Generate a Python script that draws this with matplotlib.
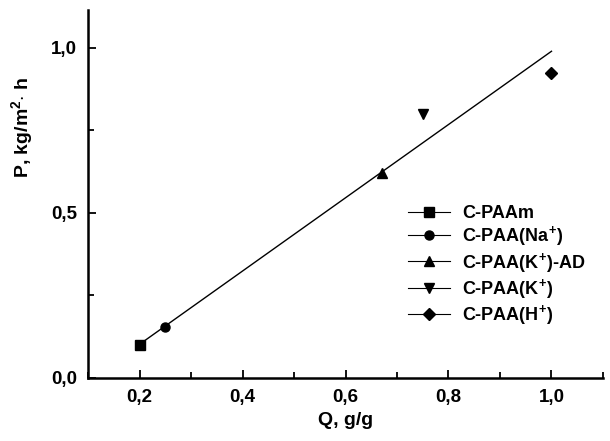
import matplotlib
matplotlib.use("Agg")
import matplotlib.pyplot as plt
from matplotlib.lines import Line2D
from matplotlib.ticker import MultipleLocator
import numpy as np

plt.rcParams["font.family"] = ["Liberation Sans", "DejaVu Sans"]
plt.rcParams["font.weight"] = "bold"
plt.rcParams["mathtext.fontset"] = "custom"
plt.rcParams["mathtext.rm"] = "Liberation Sans:bold"
plt.rcParams["mathtext.bf"] = "Liberation Sans:bold"
plt.rcParams["mathtext.default"] = "bf"

# data
labels = ["C-PAAm", "C-PAA(Na$^{+}$)", "C-PAA(K$^{+}$)-AD", "C-PAA(K$^{+}$)", "C-PAA(H$^{+}$)"]
markers = ["s", "o", "^", "v", "D"]
q_vals = [0.20, 0.25, 0.67, 0.75, 1.00]
p_vals = [0.10, 0.155, 0.62, 0.80, 0.925]

# fitted line as drawn
fit_x = [0.20, 1.00]
fit_slope = 1.11
fit_icept = -0.12

x_ticks = [0.2, 0.4, 0.6, 0.8, 1.0]
x_ticklabels = ["0,2", "0,4", "0,6", "0,8", "1,0"]
y_ticks = [0.0, 0.5, 1.0]
y_ticklabels = ["0,0", "0,5", "1,0"]

fig = plt.figure(figsize=(6.10, 4.41), dpi=100)
ax = fig.add_axes([0.1443, 0.1429, 0.8442, 0.8344])

fx = np.array(fit_x)
ax.plot(fx, fit_slope * fx + fit_icept, color="black", lw=1.0)


def msize(m):
    return 6 if m == "D" else 6.5


for q, p, m in zip(q_vals, p_vals, markers):
    ax.plot([q], [p], marker=m, color="black", ms=msize(m), ls="none")

ax.set_xlim(0.1, 1.1)
ax.set_ylim(0.0, 1.115)
ax.set_xticks(x_ticks)
ax.set_xticklabels(x_ticklabels)
ax.set_yticks(y_ticks)
ax.set_yticklabels(y_ticklabels)
ax.xaxis.set_minor_locator(MultipleLocator(0.1))
ax.yaxis.set_minor_locator(MultipleLocator(0.25))
ax.tick_params(which="both", direction="in", width=1.3, labelsize=13.5, pad=8)
ax.tick_params(which="major", length=6)
ax.tick_params(which="minor", length=4)

for s in ["top", "right"]:
    ax.spines[s].set_visible(False)
for s in ["left", "bottom"]:
    ax.spines[s].set_linewidth(1.8)

ax.set_xlabel("Q, g/g", fontsize=14, fontweight="bold")
ax.xaxis.set_label_coords(0.5, -0.092)
ax.set_ylabel("P, kg/m$^{2}$$\\cdot$ h", fontsize=14, fontweight="bold")
ax.yaxis.set_label_coords(-0.102, 0.68)

handles = [Line2D([], [], color="black", lw=0.8, marker=m, ms=msize(m)) for m in markers]
ax.legend(handles, labels, loc="upper left", bbox_to_anchor=(0.59, 0.514), frameon=False,
          fontsize=13, handlelength=2.33, handletextpad=0.67, labelspacing=0.13)

fig.savefig("out.png", dpi=100)
